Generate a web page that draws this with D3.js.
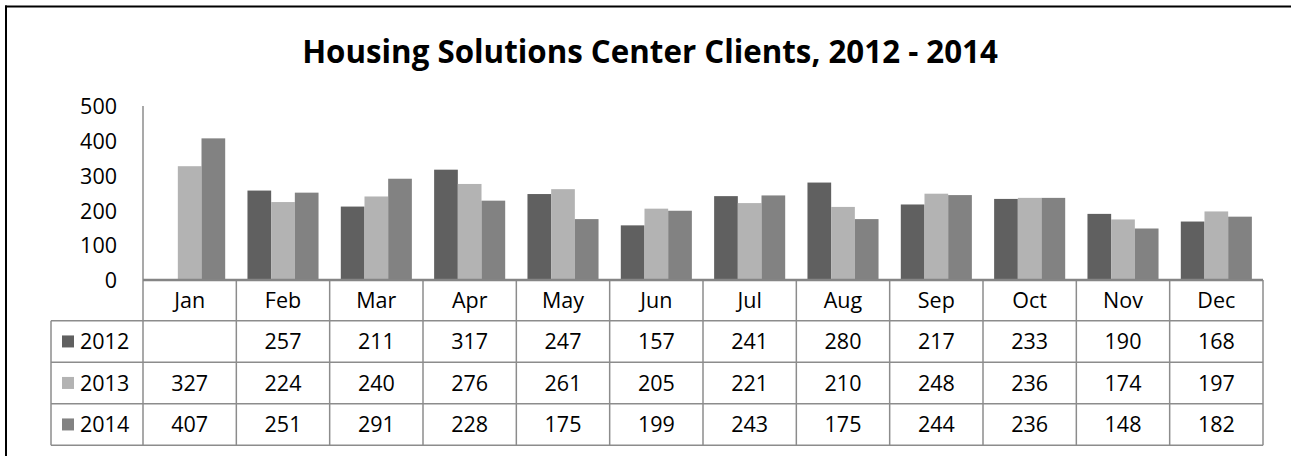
<!DOCTYPE html>
<html><head><meta charset="utf-8">
<script src="https://cdn.jsdelivr.net/npm/d3@7"></script>
<style>html,body{margin:0;padding:0;background:#fff;overflow:hidden}svg{display:block}text{font-family:"Open Sans",sans-serif;fill:#000}</style>
</head><body>
<svg id="c" width="1291" height="456"></svg>
<script>
const months = ["Jan","Feb","Mar","Apr","May","Jun","Jul","Aug","Sep","Oct","Nov","Dec"];
const seriesNames = ["2012","2013","2014"];
const values2012 = [null,257,211,317,247,157,241,280,217,233,190,168];
const values2013 = [327,224,240,276,261,205,221,210,248,236,174,197];
const values2014 = [407,251,291,228,175,199,243,175,244,236,148,182];
const yTicks = [0,100,200,300,400,500];
const colors = ["#606060","#b3b3b3","#828282"];
const title = "Housing Solutions Center Clients, 2012 - 2014";

(function(){
const seriesValues = [values2012, values2013, values2014];
const svg = d3.select("#c");
const fs = 21.5;

// frame
svg.append("line").attr("x1",5).attr("x2",1291).attr("y1",6.5).attr("y2",6.5).attr("stroke","#000").attr("stroke-width",2);
svg.append("line").attr("x1",6).attr("x2",6).attr("y1",5.5).attr("y2",456).attr("stroke","#000").attr("stroke-width",2);

// title
const t = svg.append("text").attr("x",650).attr("y",63).attr("text-anchor","middle")
  .attr("font-weight","bold").attr("font-size",26).text(title);
const tw = t.node().getComputedTextLength();
t.attr("font-size", 26*696/tw);

const plotLeft = 143, plotRight = 1263, base = 280, plotTop = 106;
const x = d3.scaleBand().domain(months).range([plotLeft,plotRight]).padding(0);
const x1 = d3.scaleBand().domain(seriesNames).range([0,x.bandwidth()]).paddingInner(0).paddingOuter(0.47);
const y = d3.scaleLinear().domain([0,500]).range([base,plotTop]);

// y tick labels
const yAxis = d3.axisLeft(y).tickValues(yTicks).tickSize(0).tickPadding(26);
const ya = svg.append("g").attr("transform",`translate(${plotLeft},0)`).call(yAxis);
ya.select(".domain").remove();
ya.selectAll("text").attr("font-size",fs).attr("fill","#000").attr("font-family","'Open Sans',sans-serif").attr("dy","0.36em");

// bars
seriesNames.forEach((s,i)=>{
  svg.append("g").selectAll("rect").data(months.map((m,j)=>({m,v:seriesValues[i][j]})).filter(d=>d.v!=null))
    .join("rect")
    .attr("x",d=>x(d.m)+x1(s)).attr("width",x1.bandwidth())
    .attr("y",d=>y(d.v)).attr("height",d=>base-y(d.v))
    .attr("fill",colors[i]);
});

// table
const rowH = 41.5;
const headTop = base, headBot = base+40.7;
const tableBot = headBot + 3*rowH;
const legendLeft = 51;
const gc = "#8c8c8c";
const g = svg.append("g").attr("stroke",gc).attr("stroke-width",1.5);
g.append("line").attr("x1",plotLeft).attr("x2",plotLeft).attr("y1",plotTop).attr("y2",tableBot);
months.forEach(m=>{
  g.append("line").attr("x1",x(m)+x.bandwidth()).attr("x2",x(m)+x.bandwidth()).attr("y1",headTop).attr("y2",tableBot);
});
g.append("line").attr("x1",plotLeft).attr("x2",plotRight).attr("y1",base).attr("y2",base).attr("stroke-width",2.5).attr("stroke","#858585");
[headBot, headBot+rowH, headBot+2*rowH, tableBot].forEach(yy=>{
  g.append("line").attr("x1",legendLeft).attr("x2",plotRight).attr("y1",yy).attr("y2",yy);
});
g.append("line").attr("x1",legendLeft).attr("x2",legendLeft).attr("y1",headBot).attr("y2",tableBot);

// header text
svg.append("g").selectAll("text").data(months).join("text")
  .attr("x",d=>x(d)+x.bandwidth()/2).attr("y",(headTop+headBot)/2+8)
  .attr("text-anchor","middle").attr("font-size",fs).text(d=>d);

// rows
seriesNames.forEach((s,i)=>{
  const cy = headBot + rowH*i + rowH/2;
  svg.append("rect").attr("x",62).attr("y",cy-6).attr("width",12).attr("height",12).attr("fill",colors[i]);
  svg.append("text").attr("x",80).attr("y",cy+8).attr("font-size",fs).text(s);
  svg.append("g").selectAll("text").data(months.map((m,j)=>({m,v:seriesValues[i][j]})).filter(d=>d.v!=null))
    .join("text").attr("x",d=>x(d.m)+x.bandwidth()/2).attr("y",cy+8)
    .attr("text-anchor","middle").attr("font-size",fs).text(d=>d.v);
});
})();
</script>
</body></html>
